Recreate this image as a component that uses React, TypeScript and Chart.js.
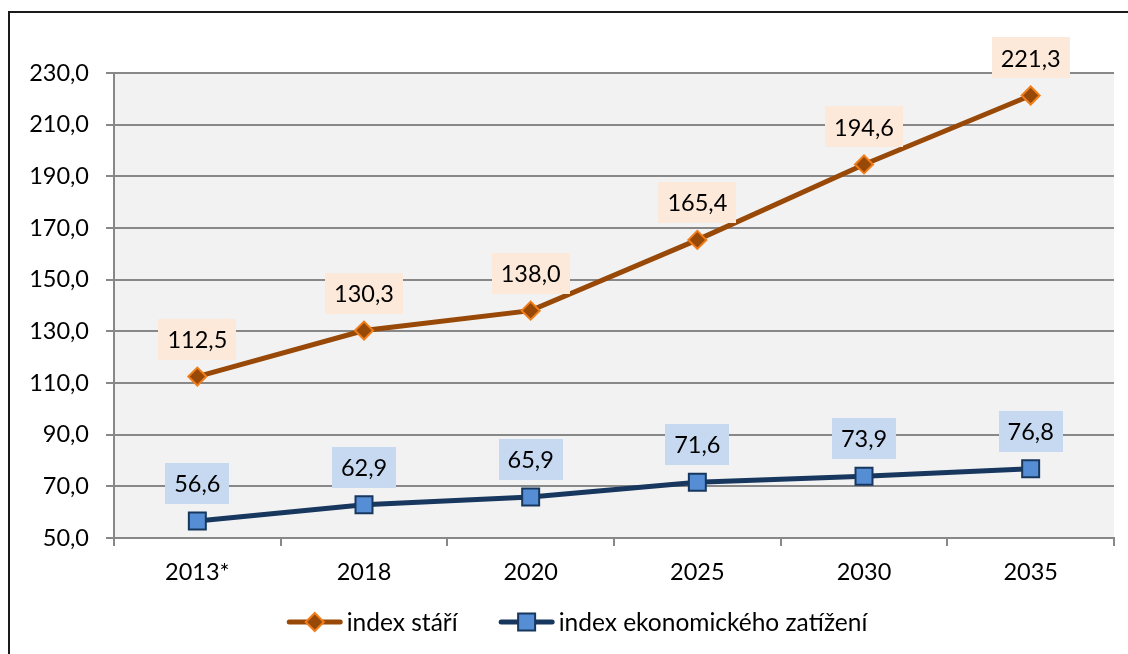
import React, { useEffect, useRef } from "react";
import { Chart, registerables } from "chart.js";

Chart.register(...registerables);

const categories = ["2013*", "2018", "2020", "2025", "2030", "2035"];
const indexStari = [112.5, 130.3, 138.0, 165.4, 194.6, 221.3];
const indexZatizeni = [56.6, 62.9, 65.9, 71.6, 73.9, 76.8];
const seriesNames = ["index stáří", "index ekonomického zatížení"];
const yMin = 50;
const yMax = 230;
const yStep = 20;

const FONT = "Lato, 'Open Sans', sans-serif";
const GRID = "#888888";
const LABEL_BG = ["#FDE9D9", "#C6D9F1"];
const MARKER_FILL = ["#984807", "#558ED5"];
const MARKER_BORDER = ["#F07D19", "#17375E"];
const LINE_COLOR = ["#984807", "#17375E"];
const MARKER_SHAPE = ["diamond", "square"];

const fmt = (v: number) => Number(v).toFixed(1).replace(".", ",");

const bgPlugin = {
  id: "plotBg",
  beforeDraw(chart: any) {
    const { ctx, chartArea: a } = chart;
    ctx.save();
    ctx.fillStyle = "#F2F2F2";
    ctx.fillRect(a.left, a.top, a.right - a.left, a.bottom - a.top);
    ctx.restore();
  },
};

const labelPlugin = {
  id: "valueLabels",
  afterDatasetsDraw(chart: any) {
    const ctx = chart.ctx;
    ctx.save();
    ctx.font = `23.5px ${FONT}`;
    ctx.textAlign = "center";
    ctx.textBaseline = "middle";
    chart.data.datasets.forEach((ds: any, i: number) => {
      const meta = chart.getDatasetMeta(i);
      meta.data.forEach((el: any, j: number) => {
        const txt = fmt(ds.data[j]);
        const tw = ctx.measureText(txt).width;
        const w = tw + 18;
        const h = 41;
        const cx = el.x;
        const cy = el.y - 37.5;
        ctx.fillStyle = LABEL_BG[i];
        ctx.fillRect(Math.round(cx - w / 2), Math.round(cy - h / 2), Math.round(w), h);
        ctx.fillStyle = "#000";
        ctx.fillText(txt, cx, cy + 1);
      });
    });
    ctx.restore();
  },
};

const legendPlugin = {
  id: "customLegend",
  afterDraw(chart: any) {
    const ctx = chart.ctx;
    const a = chart.chartArea;
    const y = a.bottom + 84;
    ctx.save();
    ctx.font = `24.5px ${FONT}`;
    ctx.textBaseline = "middle";
    ctx.textAlign = "left";
    const sym = 56;
    const gapT = 4;
    const gapI = 41;
    const items = chart.data.datasets.map((ds: any, i: number) => ({
      i,
      label: ds.label,
      tw: ctx.measureText(ds.label).width,
    }));
    const total =
      items.reduce((s: number, it: any) => s + sym + gapT + it.tw, 0) +
      gapI * (items.length - 1);
    let x = chart.width / 2 + 8 - total / 2;
    items.forEach((it: any) => {
      const i = it.i;
      ctx.strokeStyle = LINE_COLOR[i];
      ctx.lineWidth = 5;
      ctx.lineCap = "round";
      ctx.beginPath();
      ctx.moveTo(x + 2.5, y);
      ctx.lineTo(x + sym - 2.5, y);
      ctx.stroke();
      const mx = x + sym / 2;
      ctx.fillStyle = MARKER_FILL[i];
      ctx.strokeStyle = MARKER_BORDER[i];
      ctx.lineWidth = 2;
      ctx.beginPath();
      if (MARKER_SHAPE[i] === "diamond") {
        ctx.moveTo(mx, y - 9);
        ctx.lineTo(mx + 9, y);
        ctx.lineTo(mx, y + 9);
        ctx.lineTo(mx - 9, y);
        ctx.closePath();
      } else {
        ctx.rect(mx - 8.5, y - 8.5, 17, 17);
      }
      ctx.fill();
      ctx.stroke();
      ctx.fillStyle = "#000";
      ctx.fillText(it.label, x + sym + gapT, y + 1);
      x += sym + gapT + it.tw + gapI;
    });
    ctx.restore();
  },
};

export default function App() {
  const ref = useRef<HTMLCanvasElement | null>(null);

  useEffect(() => {
    if (!ref.current) return;
    const chart = new Chart(ref.current, {
      type: "line",
      data: {
        labels: categories,
        datasets: [
          {
            label: seriesNames[0],
            data: indexStari,
            borderColor: LINE_COLOR[0],
            borderWidth: 5,
            tension: 0,
            pointStyle: "rectRot",
            pointRadius: 9,
            pointBackgroundColor: MARKER_FILL[0],
            pointBorderColor: MARKER_BORDER[0],
            pointBorderWidth: 2,
            clip: false,
          },
          {
            label: seriesNames[1],
            data: indexZatizeni,
            borderColor: LINE_COLOR[1],
            borderWidth: 5,
            tension: 0,
            pointStyle: "rect",
            pointRadius: 12,
            pointBackgroundColor: MARKER_FILL[1],
            pointBorderColor: MARKER_BORDER[1],
            pointBorderWidth: 2,
            clip: false,
          },
        ],
      },
      options: {
        animation: false,
        responsive: false,
        events: [],
        layout: { padding: { top: 60, right: 11, left: 0, bottom: 0 } },
        plugins: {
          legend: { display: false },
          tooltip: { enabled: false },
        },
        scales: {
          x: {
            offset: true,
            ticks: { font: { family: FONT, size: 23.5 }, color: "#000", padding: 12 },
            grid: {
              offset: true,
              drawOnChartArea: false,
              drawTicks: true,
              tickLength: 8,
              color: GRID,
              lineWidth: 2,
            },
            border: { display: true, color: GRID, width: 2 },
            afterFit: (s: any) => {
              s.height = 116;
            },
          },
          y: {
            min: yMin,
            max: yMax,
            ticks: {
              stepSize: yStep,
              callback: (v: any) => fmt(v),
              font: { family: FONT, size: 23.5 },
              color: "#000",
              padding: 17,
            },
            grid: { color: GRID, lineWidth: 2, tickLength: 8, drawTicks: true },
            border: { display: true, color: GRID, width: 2 },
            afterFit: (s: any) => {
              s.width = 104;
            },
          },
        },
      },
      plugins: [bgPlugin, labelPlugin, legendPlugin],
    });
    return () => chart.destroy();
  }, []);

  return (
    <div
      style={{
        position: "fixed",
        left: 8,
        top: 11,
        width: 1120,
        height: 643,
        boxSizing: "border-box",
        borderTop: "2px solid #1a1a1a",
        borderLeft: "2px solid #1a1a1a",
        background: "#fff",
        overflow: "hidden",
      }}
    >
      <canvas ref={ref} width={1118} height={641} style={{ display: "block" }} />
    </div>
  );
}
